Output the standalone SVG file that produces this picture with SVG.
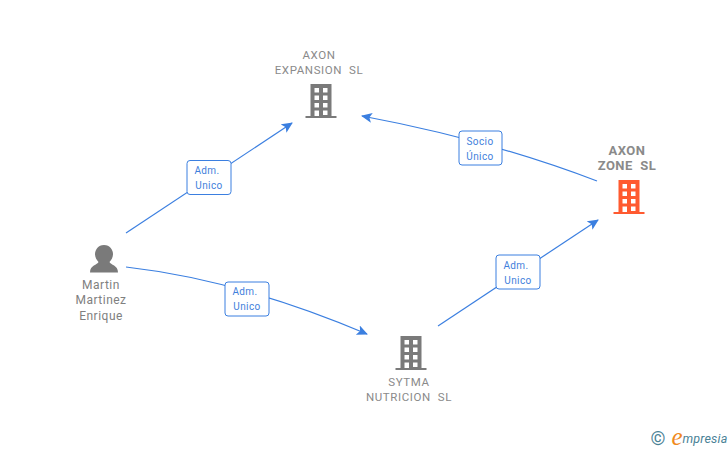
<svg xmlns="http://www.w3.org/2000/svg" width="728" height="450" viewBox="0 0 728 450">
<style>
text{font-family:Roboto,"Liberation Sans",Arial,sans-serif;text-anchor:middle}
.n{font-size:11.500px;fill:#8a8a8a;letter-spacing:.6px}
.nb{font-size:13px;font-weight:bold;fill:#8a8a8a;letter-spacing:.5px}
.p{font-size:12px;fill:#808080;letter-spacing:.5px}
.l{font-size:10px;fill:#3f7fdc;letter-spacing:.4px}
.c{fill:none;stroke:#3b7fe0;stroke-width:1.2;marker-end:url(#a)}
.b{fill:#fff;stroke:#3b7fe0;stroke-width:1}
</style>
<defs>
<marker id="a" markerUnits="userSpaceOnUse" markerWidth="12" markerHeight="12" refX="10" refY="5" orient="auto"><path d="M0 0L11 5L0 10L2.500 5Z" fill="#3b7fe0"/></marker>
<g id="bld">
<path fill-rule="evenodd" d="M-10.500-17H10.500V15H15.500V17H-15.500V15H-10.500ZM-6.500-13V-8.500H-2V-13ZM2-13V-8.500H6.500V-13ZM-6.500-5.500V-1H-2V-5.500ZM2-5.500V-1H6.500V-5.500ZM-6.500 2V6.500H-2V2ZM2 2V6.500H6.500V2ZM-6.500 9.500V15H-2V9.500ZM2 9.500V14H6.500V9.500Z"/>
</g>
</defs>
<rect width="728" height="450" fill="#fff"/>
<g id="connectors">
<path class="c" d="M126 233L292 123"/>
<path class="c" d="M597 181Q490 140 362 116"/>
<path class="c" d="M126 267Q240 280 367 334"/>
<path class="c" d="M438 326L598 220"/>
</g>
<g id="label-adm-1"><rect class="b" x="187" y="160.500" width="44" height="34" rx="3"/><text class="l" x="207" y="174">Adm.</text><text class="l" x="209" y="189">Unico</text></g>
<g id="label-socio"><rect class="b" x="459" y="131" width="43" height="34" rx="3"/><text class="l" x="480" y="145">Socio</text><text class="l" x="480" y="160">Único</text></g>
<g id="label-adm-2"><rect class="b" x="225" y="282" width="44" height="34" rx="3"/><text class="l" x="245" y="295">Adm.</text><text class="l" x="247" y="310">Unico</text></g>
<g id="label-adm-3"><rect class="b" x="496" y="255" width="44" height="34" rx="3"/><text class="l" x="516" y="269">Adm.</text><text class="l" x="518" y="284">Unico</text></g>
<g id="node-expansion"><text class="n" x="319" y="59">AXON</text><text class="n" x="319" y="74" xml:space="preserve">EXPANSION  SL</text><use href="#bld" x="321" y="101" fill="#7a7a7a"/></g>
<g id="node-zone"><text class="nb" x="627" y="155">AXON</text><text class="nb" x="627" y="170" xml:space="preserve">ZONE  SL</text><use href="#bld" x="629" y="197" fill="#ff5a30"/></g>
<g id="node-sytma"><text class="n" x="409" y="386">SYTMA</text><text class="n" x="409" y="401" xml:space="preserve">NUTRICION  SL</text><use href="#bld" x="411" y="353" fill="#7a7a7a"/></g>
<g id="node-martin">
<path fill="#7a7a7a" d="M104 245C110 245 113 250 113 254C113 257 111.500 260 109.500 262C110.500 265 118 265 118 272.500H90C90 265 97.500 265 98.500 262C96.500 260 95 257 95 254C95 250 98 245 104 245Z"/>
<text class="p" x="101" y="289">Martin</text><text class="p" x="101" y="304">Martinez</text><text class="p" x="101" y="320">Enrique</text>
</g>
<g id="watermark">
<text x="658" y="445" style="font-size:19px;fill:#4a8296">©</text>
<text x="677" y="445" style="font-size:25px;font-style:italic;fill:#f08a1d;font-family:'Liberation Serif',serif">e</text>
<text x="705" y="443" style="font-size:12.500px;font-style:italic;fill:#4a8296;letter-spacing:.2px">mpresia</text>
</g>
</svg>
